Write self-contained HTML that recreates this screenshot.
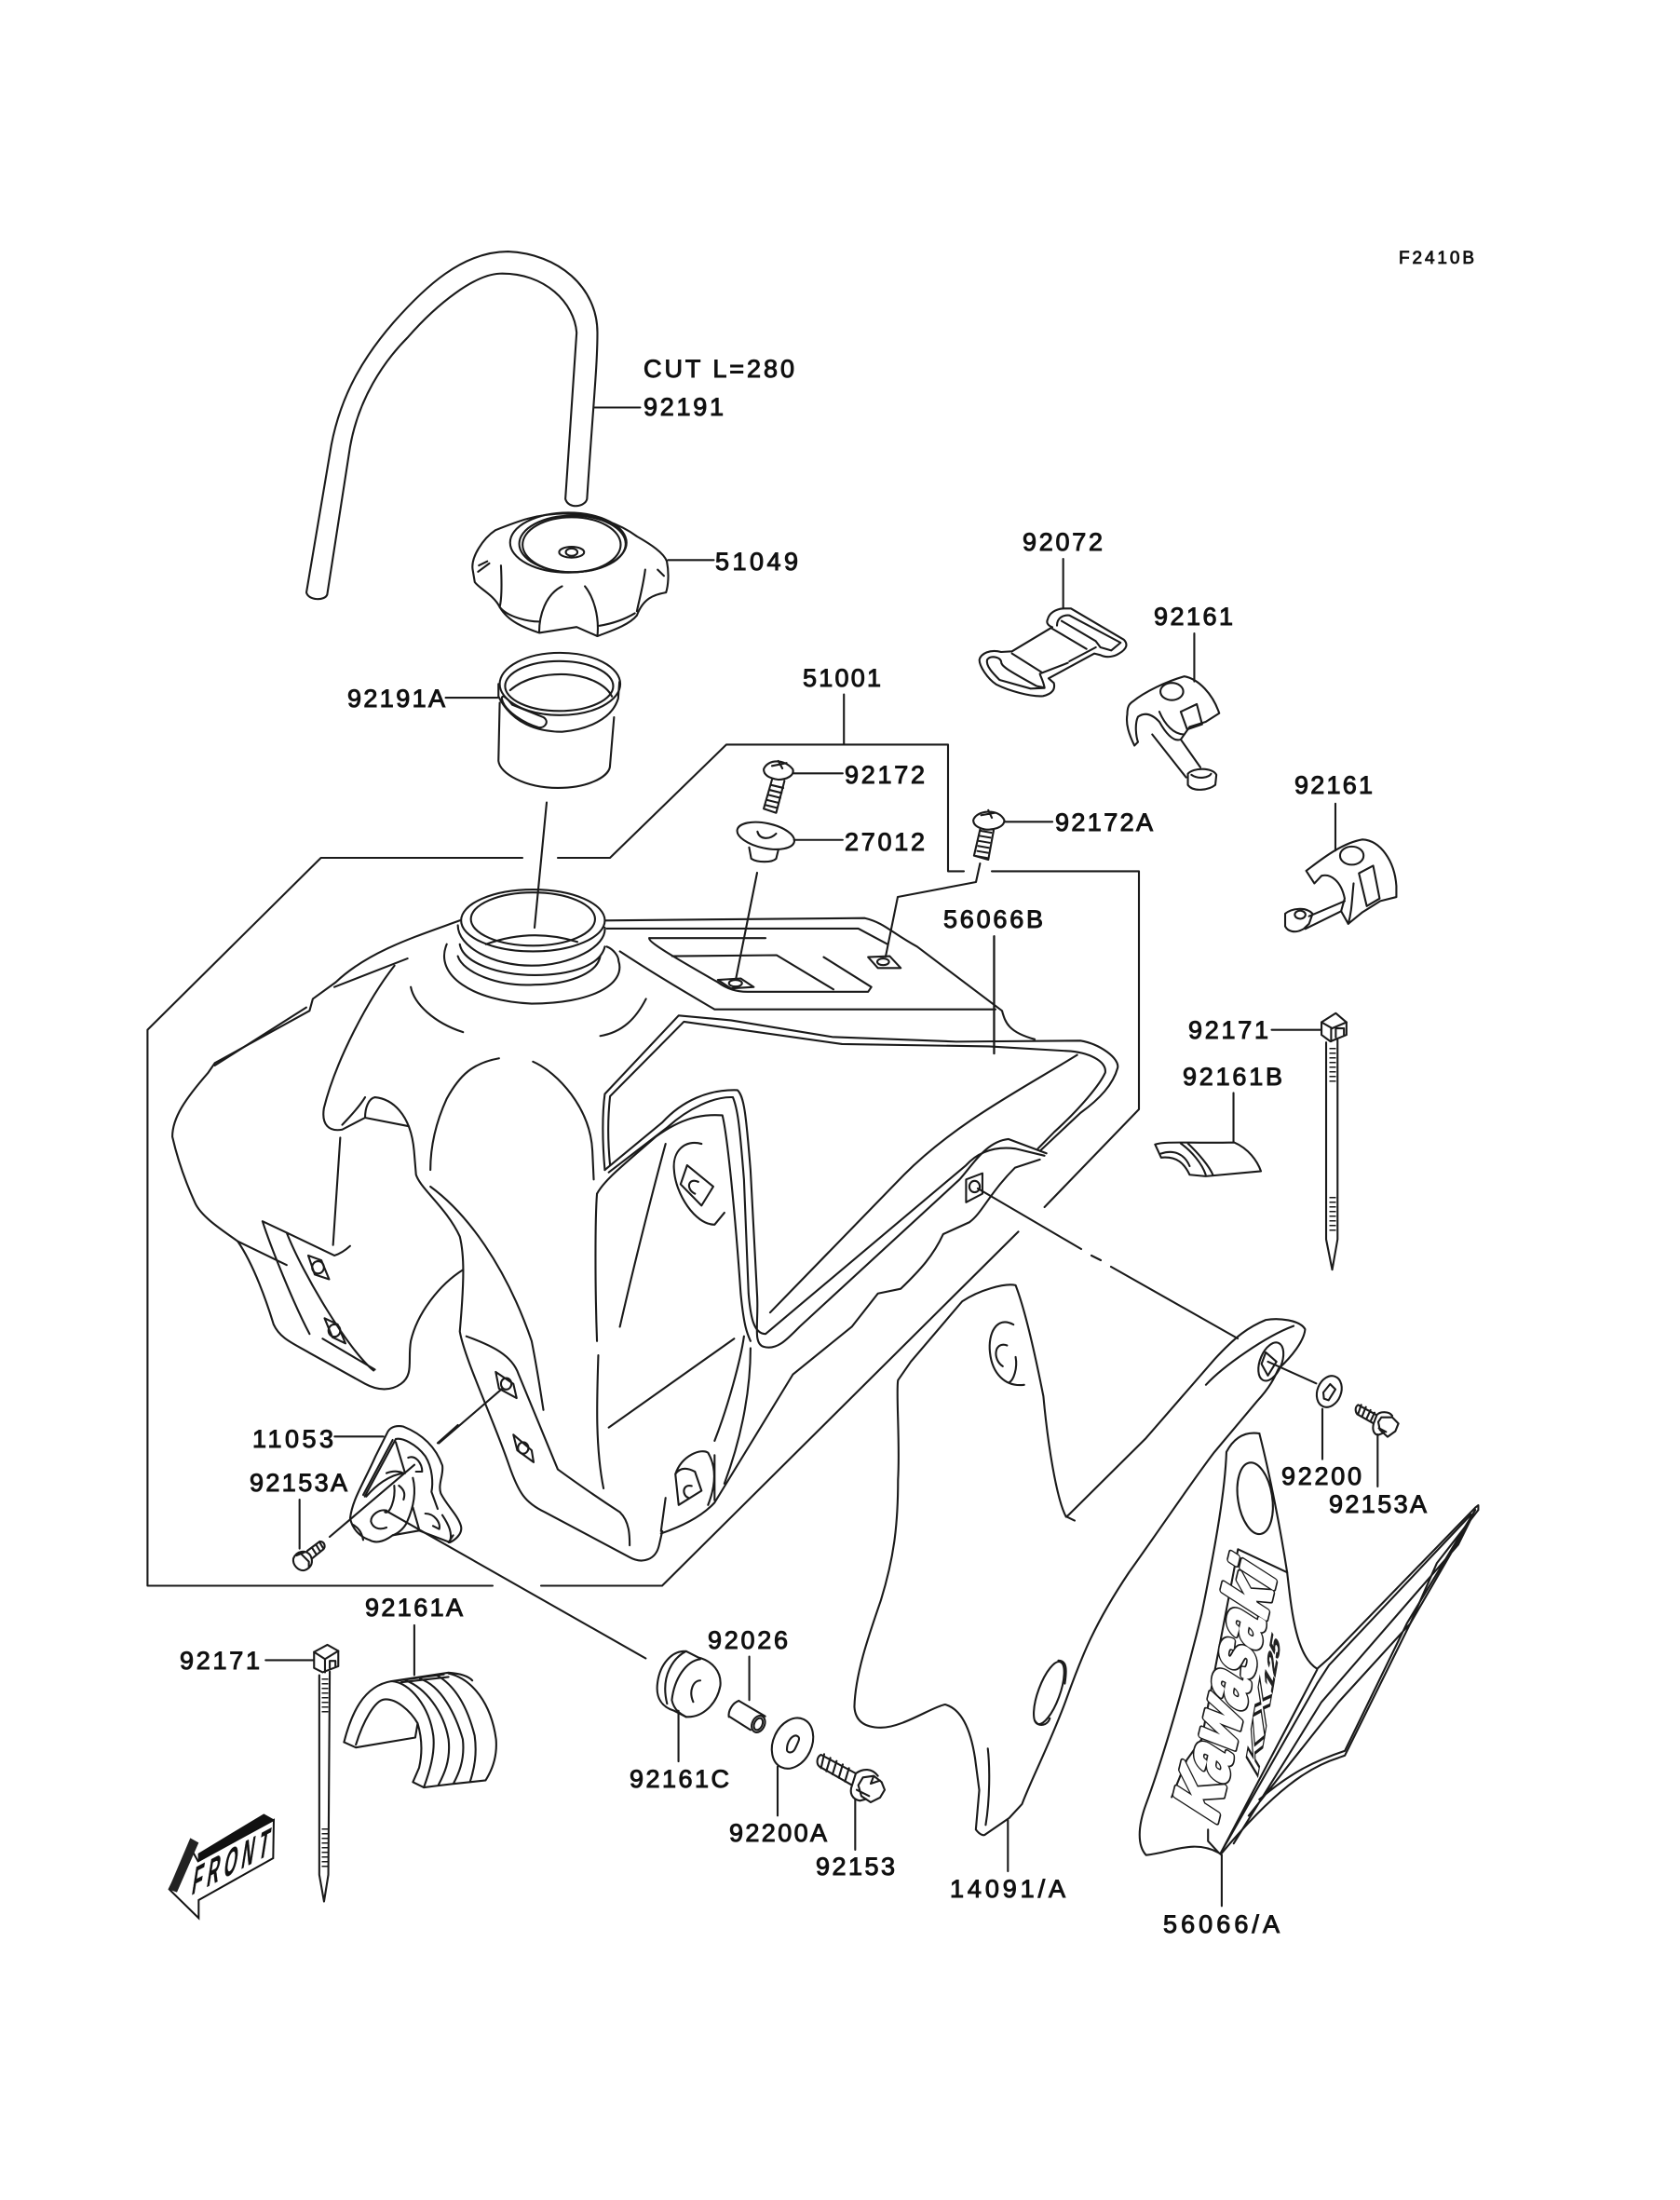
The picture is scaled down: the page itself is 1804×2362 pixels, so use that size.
<!DOCTYPE html>
<html><head><meta charset="utf-8"><style>
html,body{margin:0;padding:0;background:#fff}
svg{display:block}
path,line,ellipse,polygon,polyline{vector-effect:non-scaling-stroke}
.l{fill:none;stroke:#1a1a1a;stroke-width:2.1;stroke-linecap:round;stroke-linejoin:round}
text{font-family:"Liberation Sans",sans-serif;font-size:27px;fill:#111;stroke:#111;stroke-width:1}
</style></head><body>
<svg width="1804" height="2362" viewBox="0 0 1804 2362" xmlns="http://www.w3.org/2000/svg">
<rect width="1804" height="2362" fill="#fff"/>
<g class="l">
<path d="M561,921H344.6L158.4,1105.6V1702.5H529M581,1702.5H711L1093.5,1322.4M1121.6,1296L1223,1191V935.4H1065M1035,935.4H1018V799.4H780L655,921H599"/>
<path d="M587,861.6L574,996M813,937L790,1052M1052.4,927L1048,947L964,963L951,1027"/>
<path d="M1050,1276L1161,1341M1172,1348L1182,1353M1193,1360L1329,1437"/>
</g>
<!-- zoom 2 region -->
<g class="l" transform="translate(300 250) scale(.4464)">
<path d="M65,865L125,510C150,380 210,290 275,215C350,130 440,45 550,45C670,50 765,130 765,240C765,320 755,410 740,640C735,660 695,665 688,640L715,240C710,170 640,95 530,98C470,100 380,170 310,250C250,310 190,400 170,515L115,870C110,885 70,885 65,865Z"/>
<path d="M758,420H868M935,787H1045M400,1118H525M1358,1110V1230M1238,1300H1355M1238,1460H1355"/>
<path d="M465,810C460,780 490,735 520,715C570,695 620,675 690,675C760,678 820,700 860,730C895,750 925,770 932,790C938,820 935,850 930,865C900,870 875,880 860,920C840,945 790,960 765,970L715,948L625,962C590,950 550,935 530,900C515,870 480,855 470,840Z"/>
<ellipse cx="695" cy="745" rx="140" ry="72"/><ellipse cx="705" cy="748" rx="128" ry="68"/><ellipse cx="703" cy="750" rx="118" ry="66"/>
<ellipse cx="703" cy="768" rx="30" ry="13"/><ellipse cx="703" cy="768" rx="14" ry="9"/>
<path d="M533,800C535,840 535,880 530,900M625,960C625,920 640,870 680,850M735,850C755,875 770,920 765,970M880,810C875,850 865,885 860,910M530,900C550,925 600,935 625,935M770,945C800,940 830,930 855,915"/>
<path d="M480,800L500,790M478,815L505,795M910,810L925,825"/>
<ellipse cx="675" cy="1085" rx="145" ry="75"/><ellipse cx="673" cy="1090" rx="130" ry="60"/>
<path d="M555,1100C590,1070 640,1060 690,1062C740,1065 785,1085 800,1115"/>
<path d="M530,1130L527,1270C530,1300 590,1335 670,1335C740,1335 790,1310 795,1285L805,1165M527,1085V1115C560,1180 620,1200 680,1200C740,1195 800,1170 815,1120L818,1080"/>
<path d="M535,1120C535,1110 545,1115 560,1135L635,1165C650,1175 640,1190 625,1190C590,1180 540,1150 535,1120Z"/>
<path d="M1165,1290C1175,1265 1215,1265 1235,1290C1240,1305 1220,1315 1200,1315C1180,1312 1165,1305 1165,1290ZM1185,1315L1165,1385L1195,1395L1215,1318M1185,1282L1220,1275M1200,1270L1210,1288"/>
<path d="M1183,1328L1212,1335M1180,1340L1208,1347M1177,1352L1205,1359M1173,1364L1201,1371M1169,1376L1197,1383"/>
<ellipse cx="1170" cy="1450" rx="70" ry="30" transform="rotate(12 1170 1450)"/>
<path d="M1130,1478L1135,1505C1150,1515 1185,1515 1195,1505L1200,1485M1150,1440C1155,1460 1180,1460 1195,1445"/>
</g>
<!-- tank -->
<g class="l" transform="translate(150 950) scale(.7015 .5102)">
<ellipse cx="602" cy="75" rx="110" ry="65"/><ellipse cx="602" cy="72" rx="95" ry="56"/>
<path d="M530,125Q600,90 670,120M487,85C487,130 540,170 600,170C660,170 715,130 712,90M490,125C495,165 550,190 605,190C660,190 705,170 712,130M487,150C495,185 550,215 605,210C650,210 700,190 705,150M470,125C450,190 510,245 600,250C690,250 745,210 733,160C733,150 725,135 715,130"/>
<path d="M490,75C420,110 350,140 300,205L265,240L260,265L115,375L105,395C70,450 50,490 50,530C60,590 75,640 85,670C95,700 130,730 150,750L225,800"/>
<path d="M410,155L298,215M255,258L115,380"/>
<path d="M150,750C175,800 195,880 205,925C215,955 235,965 260,985L345,1050C365,1065 385,1065 400,1050C420,1030 410,1000 415,960C425,900 460,840 495,810"/>
<path d="M188,708L225,732L298,780Q310,775 322,760M188,708C200,760 235,880 260,945M225,732C250,820 320,980 358,1022M280,955L360,1020M307,532L296,758"/>
<polygon points="258,780 278,790 290,830 268,820"/><polygon points="283,912 303,925 315,965 295,952"/>
<ellipse cx="273" cy="805" rx="9" ry="13"/><ellipse cx="298" cy="938" rx="9" ry="13"/>
<path d="M390,170C350,240 300,370 282,470C278,505 290,520 310,515L345,490L412,508M345,490C345,470 350,450 360,447C385,450 415,480 420,560L423,610C430,640 470,680 490,740C497,780 497,830 490,940C498,1000 540,1120 565,1220C580,1280 590,1300 620,1320L750,1415C770,1430 790,1420 795,1390L800,1360M345,447C335,470 320,490 310,505"/>
<path d="M445,635C500,690 560,800 600,960C610,1030 615,1080 618,1105M550,365C510,375 490,400 470,450C450,510 445,560 445,600M602,372C640,395 690,470 693,560L695,620M415,215C420,250 450,290 495,310M775,240C760,280 740,310 705,318"/>
<path d="M700,650C697,700 697,850 700,960M702,990C700,1080 697,1180 710,1270"/>
<path d="M712,600L800,500C830,455 870,430 915,432C925,445 928,480 935,600L945,860C948,920 938,965 955,972C975,980 990,958 1010,930L1255,620C1275,590 1295,540 1330,535L1388,565"/>
<path d="M718,605L808,510C840,470 880,445 908,447C915,470 918,500 925,620L932,860C935,910 940,945 958,945L1265,590C1285,560 1310,550 1340,555L1385,570"/>
<path d="M700,650C712,620 740,590 790,530C830,490 860,482 892,485C900,530 912,700 920,860C925,930 930,945 935,960"/>
<path d="M712,600C708,540 708,480 712,440L825,275L905,285L1060,320L1250,330L1440,328C1470,335 1500,365 1497,385C1490,420 1470,450 1440,480L1378,560"/>
<path d="M720,590C715,520 718,470 720,445L833,288L1075,335L1300,340L1425,350C1460,355 1480,375 1478,395C1470,420 1440,470 1400,520L1375,555"/>
<path d="M1435,358C1350,430 1250,500 1170,610L965,900"/>
<path d="M1378,578L1340,595C1300,650 1290,690 1270,710L1230,735C1215,780 1195,810 1165,850L1130,860L1090,930L1000,1030L880,1300C860,1330 830,1350 798,1365"/>
<path d="M712,75L1110,70C1140,80 1150,100 1190,130L1320,265C1325,290 1330,310 1370,325M715,92H1100L1145,125M735,140C790,190 840,230 880,262L1310,262"/>
<path d="M780,112H958M780,112C778,120 815,150 885,205C900,220 915,225 930,225H1115L1120,215L1047,152M815,150L975,148L1062,220"/>
<polygon points="885,200 920,197 940,215 905,218"/><polygon points="1115,152 1148,150 1165,175 1130,175"/>
<ellipse cx="912" cy="207" rx="10" ry="7"/><ellipse cx="1138" cy="162" rx="9" ry="7"/>
<path d="M1308,108V355"/>
<path d="M805,545C790,620 760,780 735,930M910,955L718,1142"/>
<path d="M860,545C835,535 815,560 818,600C820,650 850,715 880,715L895,690"/><polygon points="838,590 878,635 860,675 828,630"/>
<path d="M855,625C840,615 835,640 850,650"/>
<path d="M820,1240C830,1200 860,1185 870,1195C885,1230 880,1270 870,1305M820,1240L825,1305L860,1275L850,1235Q830,1220 820,1240M805,1290L798,1360M880,1200V1295M880,1170C900,1100 920,1000 925,950M895,1260C925,1150 935,1050 935,975"/>
<path d="M845,1265C830,1260 830,1285 840,1290"/>
<polygon points="1265,620 1290,607 1290,650 1265,668"/><ellipse cx="1278" cy="635" rx="8" ry="12"/>
<path d="M500,950C540,970 570,990 580,1030L640,1230C660,1250 690,1280 735,1320C750,1340 750,1370 750,1390"/>
<polygon points="545,1025 572,1050 577,1080 550,1060"/><polygon points="572,1157 600,1190 603,1215 578,1190"/>
<ellipse cx="561" cy="1050" rx="8" ry="12"/><ellipse cx="587" cy="1185" rx="8" ry="12"/>
<path d="M555,1060L458,1175"/>
</g>
<!-- zoom 5 region -->
<g class="l" transform="translate(150 1500) scale(.5102 .3827)">
<path d="M520,320L1065,733"/>
<path d="M430,968L455,983L580,955L585,915C570,880 540,845 515,848C495,850 470,910 455,975M430,968C445,890 470,810 530,797C570,800 610,870 618,950C622,1000 610,1050 598,1095L575,1080L588,1040C595,1000 595,960 585,915"/>
<path d="M560,795C600,815 640,880 650,960C655,1020 640,1060 628,1090L598,1095M590,790C635,810 665,890 680,960C685,1020 670,1060 660,1085L628,1090M625,780C665,810 690,870 705,950C710,1000 705,1040 695,1080L660,1085M650,775C700,790 740,860 750,960C753,1010 740,1050 728,1075L695,1080M530,797L650,773C670,775 690,780 700,795M578,640V780"/>
<path d="M545,795L640,778M550,800L650,785"/>
<polygon points="367,715 395,695 418,712 418,755 385,772 367,760"/>
<path d="M367,715L390,735L418,712M390,735V772M400,760V740H412V755M378,780V1340L388,1415L397,1340L400,770M265,738H365"/>
<path d="M1090,800C1095,750 1120,710 1150,713L1175,730C1205,740 1225,770 1222,810C1215,860 1185,900 1150,897L1125,880C1100,870 1085,845 1090,800Z"/>
<path d="M1180,735C1150,740 1125,790 1120,850C1125,880 1140,890 1150,897M1150,713C1125,730 1095,780 1110,860M1180,795C1165,795 1155,825 1165,855M1134,880V1022M1283,728V850"/>
</g>
<!-- 92026 sleeve, washer, bolt 92153 -->
<g class="l" transform="translate(770 1800) scale(.3333)">
<path d="M70,78L155,128M38,128L108,172M70,78C50,85 35,110 38,130"/>
<ellipse cx="133" cy="153" rx="20" ry="28" transform="rotate(25 133 153)"/><ellipse cx="133" cy="153" rx="13" ry="20" transform="rotate(25 133 153)"/>
<ellipse cx="243" cy="215" rx="62" ry="85" transform="rotate(25 243 215)"/>
<path d="M255,190C270,195 265,205 250,235C240,250 225,245 225,235C225,210 240,190 255,190ZM195,290V448"/>
<path d="M335,252L447,312L435,350L330,290C318,280 322,258 335,252Z"/>
<path d="M345,250L335,295M365,262L352,305M385,272L372,315M405,283L392,326M425,295L412,338"/>
<path d="M447,312C470,295 500,295 518,320M435,350C425,375 435,395 460,400L480,395"/>
<path d="M470,325L505,320L530,340L540,365L525,390L495,405L465,385L455,350ZM505,320L495,345L525,335M450,365L490,385M445,395V558"/>
</g>
<!-- strap 92072 -->
<g class="l" transform="translate(1050 640) scale(.3333)">
<path d="M225,75C230,55 250,42 275,40H300L470,140C485,155 480,170 455,185C440,195 415,200 395,190L375,185L228,265L245,280C250,300 240,315 210,322C170,325 100,305 60,285C30,265 5,225 5,205C10,185 40,170 75,180L110,178L240,100C225,95 220,85 225,75Z"/>
<path d="M255,95C255,70 275,60 295,62L460,150L430,175L395,165L380,145L270,80"/>
<path d="M30,205C40,190 70,195 75,210C75,225 90,235 190,290L215,295C210,270 200,255 200,250M30,205C25,225 50,250 70,270L170,298L215,296"/>
<path d="M110,185L205,245M240,105L350,170M205,248L290,215M295,210L380,165M275,-120V40"/>
</g>
<!-- part 11053 and bolt 92153A -->
<g class="l" transform="translate(290 1530) scale(.3333)">
<path d="M380,20C390,5 410,0 430,5C480,25 530,60 555,130C560,160 540,190 550,220C570,260 605,290 615,325C620,345 605,365 580,378L480,340L395,355C375,370 345,385 320,370C290,360 265,335 258,300C265,240 300,190 340,100Z"/>
<path d="M405,45C425,40 470,60 500,100C525,140 525,190 520,215L540,270M405,45L305,230M395,48L300,225M405,55L435,155M375,155C400,145 420,150 430,155C385,160 340,195 310,230"/>
<path d="M460,170C470,210 465,260 440,315C430,335 410,350 395,355M400,195C405,240 385,290 370,280M375,275C350,270 325,290 325,310C330,330 350,340 375,330M415,195C435,210 435,225 430,240M460,265L480,335"/>
<path d="M445,105C470,95 490,125 490,150L470,150M500,285C530,285 550,315 545,335L525,325M265,320C285,330 295,345 300,370M555,290C575,320 590,350 578,378M590,355L575,378"/>
<path d="M192,360L465,128M208,37H365M95,240V398M605,0L540,58"/>
<path d="M75,430C85,405 115,400 130,420C140,440 135,460 110,468C90,470 72,450 75,430ZM85,420L110,410M100,415L125,440V460M120,405L160,375C175,375 180,390 172,400L135,430M135,395L150,418M148,385L162,408M160,378L172,398"/>
</g>
<!-- washer 92200, bolt 92153A right -->
<g class="l" transform="translate(1360 1420) scale(.3333)">
<ellipse cx="202" cy="222" rx="38" ry="52" transform="rotate(22 202 222)"/>
<path d="M205,198L222,215L200,250L185,245L183,225ZM180,278V440"/>
<path d="M295,265L355,298L345,325L292,295C285,285 285,272 295,265ZM305,265L295,295M320,272L308,302M335,282L322,310M348,290L335,318M355,298C365,285 395,285 405,300M345,325C340,345 345,360 360,362L378,355M370,305H405L425,325L415,350L390,368L365,345L360,320ZM362,340L385,352M358,360V528"/>
</g>
<g fill="none" stroke="#1a1a1a">
<line x1="349" y1="1802" x2="349" y2="1840" stroke-width="7" stroke-dasharray="1.5 3.5"/>
<line x1="349" y1="1963" x2="349" y2="2005" stroke-width="7" stroke-dasharray="1.5 3.5"/>
<line x1="1431" y1="1125" x2="1431" y2="1163" stroke-width="7" stroke-dasharray="1.5 3.5"/>
<line x1="1431" y1="1285" x2="1431" y2="1325" stroke-width="7" stroke-dasharray="1.5 3.5"/>
<line x1="1059" y1="892" x2="1054" y2="921" stroke-width="13" stroke-dasharray="2 3.5"/>
</g>
<!-- zoom 3 region -->
<g class="l" transform="translate(1000 550) scale(.3827 .5421)">
<path d="M118,610C125,590 190,585 205,610C205,625 170,630 150,628C130,625 118,620 118,610ZM137,628L120,680L160,688L175,630M205,613H340M140,600L180,595M160,590L170,605"/>
<path d="M565,375C600,355 660,335 710,325C750,330 790,360 808,398L770,415L725,425L700,450C680,455 660,440 640,415C620,400 600,395 580,405C570,420 575,445 580,455L570,462C555,440 545,420 550,400C550,385 555,380 565,375Z"/>
<ellipse cx="675" cy="355" rx="32" ry="17"/><polygon points="700,395 745,380 760,420 718,430"/>
<path d="M640,395C655,420 680,440 710,440M620,440L715,525M700,450L755,505M720,518C735,505 790,505 800,520L797,540C780,550 735,555 720,540ZM730,520C750,530 780,525 785,518M738,240V335"/>
<path d="M1052,710C1090,690 1150,655 1210,648C1260,650 1300,690 1305,740V762L1260,770L1210,792L1170,815L1150,790L1160,765C1150,730 1120,715 1095,720L1075,735Z"/>
<ellipse cx="1180" cy="680" rx="33" ry="18"/><polygon points="1200,715 1240,700 1258,765 1222,780"/>
<path d="M1185,735C1180,770 1180,790 1170,815M1060,800L1160,770M1050,825L1150,790M993,795C1010,785 1050,780 1070,795L1060,815L1045,825C1020,835 1000,830 993,820ZM1134,577V670"/>
<ellipse cx="1035" cy="797" rx="15" ry="8"/>
<path d="M628,1252C660,1245 720,1250 850,1248C890,1260 915,1285 925,1305L770,1315L725,1312C710,1290 690,1275 645,1278ZM700,1250C730,1265 760,1290 770,1312M720,1250C750,1270 780,1295 790,1312M645,1270C680,1262 710,1270 725,1295M848,1150V1248"/>
<polygon points="1095,1010 1135,992 1165,1010 1165,1035 1120,1048 1095,1035"/>
<path d="M1095,1010L1125,1022L1165,1010M1122,1022V1048M1135,1040V1022H1158V1035M1108,1050V1440L1125,1500L1140,1440V1045M955,1025H1095M176,840V1072"/>
</g>
<!-- zoom 4 region -->
<g class="l" transform="translate(900 1350) scale(.4592 .4974)">
<path d="M415,60C390,55 330,70 290,95L170,225L140,265C135,290 145,400 140,480C140,580 130,650 100,740C70,820 40,900 38,970C40,1000 60,1015 100,1015C150,1015 220,970 250,965C290,975 310,1020 320,1080L330,1150L322,1235C330,1245 340,1250 345,1245L400,1210L430,1180C450,1130 500,1040 535,950C570,860 600,790 680,680C750,590 830,480 880,420L980,310C1010,280 1020,260 1030,240C1060,215 1090,180 1092,155C1080,135 1030,130 1000,135C960,150 930,170 880,220L720,390L540,555L533,560C510,520 490,400 480,300C465,230 440,120 415,60Z"/>
<path d="M860,275C900,235 1000,170 1065,148M535,560L553,568"/>
<path d="M410,145C370,125 350,165 355,205C360,250 390,280 435,275M395,190C365,180 360,220 385,235M415,215C420,240 410,265 400,270"/>
<ellipse cx="493" cy="940" rx="25" ry="72" transform="rotate(22 493 940)"/>
<path d="M515,870C535,870 535,890 530,920M460,1000C470,1015 490,1010 495,995M350,1060C355,1100 355,1170 345,1225M397,1215V1325M897,1290V1400"/>
<ellipse cx="1012" cy="225" rx="25" ry="44" transform="rotate(25 1012 225)"/>
<path d="M1000,205L1025,225L1005,255L990,230ZM1005,225L1118,272"/>
<path d="M985,380C950,375 925,390 908,420C905,500 885,610 850,770C810,920 760,1080 720,1180C700,1230 700,1270 720,1290C780,1285 830,1255 890,1285L897,1290"/>
<path d="M985,380C1010,470 1035,590 1050,680C1060,760 1070,860 1120,888L1148,865L1490,540L1497,535V545L1400,660L1338,790L1185,1075L1170,1080C1100,1100 1020,1150 895,1288"/>
<ellipse cx="975" cy="520" rx="40" ry="78" transform="rotate(-10 975 520)"/>
<path d="M935,630L1050,680M935,630L850,1040L815,1085L780,1165"/>
<path d="M895,1285L1120,890M895,1285L1120,920L1148,880L1480,555M925,1265L1130,960L1450,620L1485,555M960,1205L1170,960L1338,790L1470,580M985,1170C1060,1110 1120,1085 1185,1065L1330,790L1490,545M865,1235V1260L890,1285"/>
</g>
<!-- decal text -->
<text transform="matrix(.236 -.971 1.069 .686 1305 1960)" textLength="275" lengthAdjust="spacingAndGlyphs" style="font-size:60px;font-weight:bold;fill:#1a1a1a;stroke:#1a1a1a;stroke-width:6;stroke-linejoin:round">Kawasaki</text>
<text transform="matrix(.236 -.971 1.069 .686 1305 1960)" textLength="275" lengthAdjust="spacingAndGlyphs" style="font-size:60px;font-weight:bold;fill:#fff;stroke:#fff;stroke-width:3.2;stroke-linejoin:round">Kawasaki</text>
<text transform="matrix(.168 -.987 .6 1 1350 1911)" textLength="92" lengthAdjust="spacingAndGlyphs" style="font-size:30px;font-weight:bold;fill:#fff;stroke:#1a1a1a;stroke-width:1.6">KX</text>
<text transform="matrix(.168 -.987 .6 1 1366 1820)" textLength="55" lengthAdjust="spacingAndGlyphs" style="font-size:22px;font-weight:bold;fill:#222;stroke:#222;stroke-width:.8">125</text>
<!-- front arrow -->
<g transform="translate(170 1940) scale(.3333)">
<polygon points="128,175 372,42 370,165 130,300 130,358 35,265 103,130" fill="#fff" stroke="#111" stroke-width="2"/>
<polygon points="33,265 103,100 130,115 60,275" fill="#222"/>
<polygon points="128,150 340,22 372,40 128,175" fill="#111"/>
</g>
<text transform="matrix(.6 -.314 -.227 1.45 205 2035)" textLength="137" style="font-size:30px;font-weight:bold;stroke-width:.2">FRONT</text>
<!-- labels -->
<text x="1502" y="283" textLength="81" style="font-size:19px;stroke-width:.8">F2410B</text>
<text x="691" y="405" textLength="162">CUT L=280</text>
<text x="691" y="446" textLength="86">92191</text>
<text x="768" y="612" textLength="89">51049</text>
<text x="373" y="759" textLength="105">92191A</text>
<text x="862" y="737" textLength="84">51001</text>
<text x="907" y="841" textLength="86">92172</text>
<text x="907" y="913" textLength="86">27012</text>
<text x="1098" y="591" textLength="86">92072</text>
<text x="1239" y="671" textLength="85">92161</text>
<text x="1390" y="852" textLength="84">92161</text>
<text x="1133" y="892" textLength="105">92172A</text>
<text x="1013" y="996" textLength="107">56066B</text>
<text x="1276" y="1115" textLength="86">92171</text>
<text x="1270" y="1165" textLength="107">92161B</text>
<text x="1376" y="1594" textLength="86">92200</text>
<text x="1427" y="1624" textLength="105">92153A</text>
<text x="1020" y="2037" textLength="124">14091/A</text>
<text x="1249" y="2075" textLength="125">56066/A</text>
<text x="271" y="1554" textLength="87">11053</text>
<text x="268" y="1601" textLength="105">92153A</text>
<text x="392" y="1735" textLength="105">92161A</text>
<text x="193" y="1792" textLength="86">92171</text>
<text x="760" y="1770" textLength="86">92026</text>
<text x="676" y="1919" textLength="107">92161C</text>
<text x="783" y="1977" textLength="105">92200A</text>
<text x="876" y="2013" textLength="85">92153</text>
</svg>
</body></html>
